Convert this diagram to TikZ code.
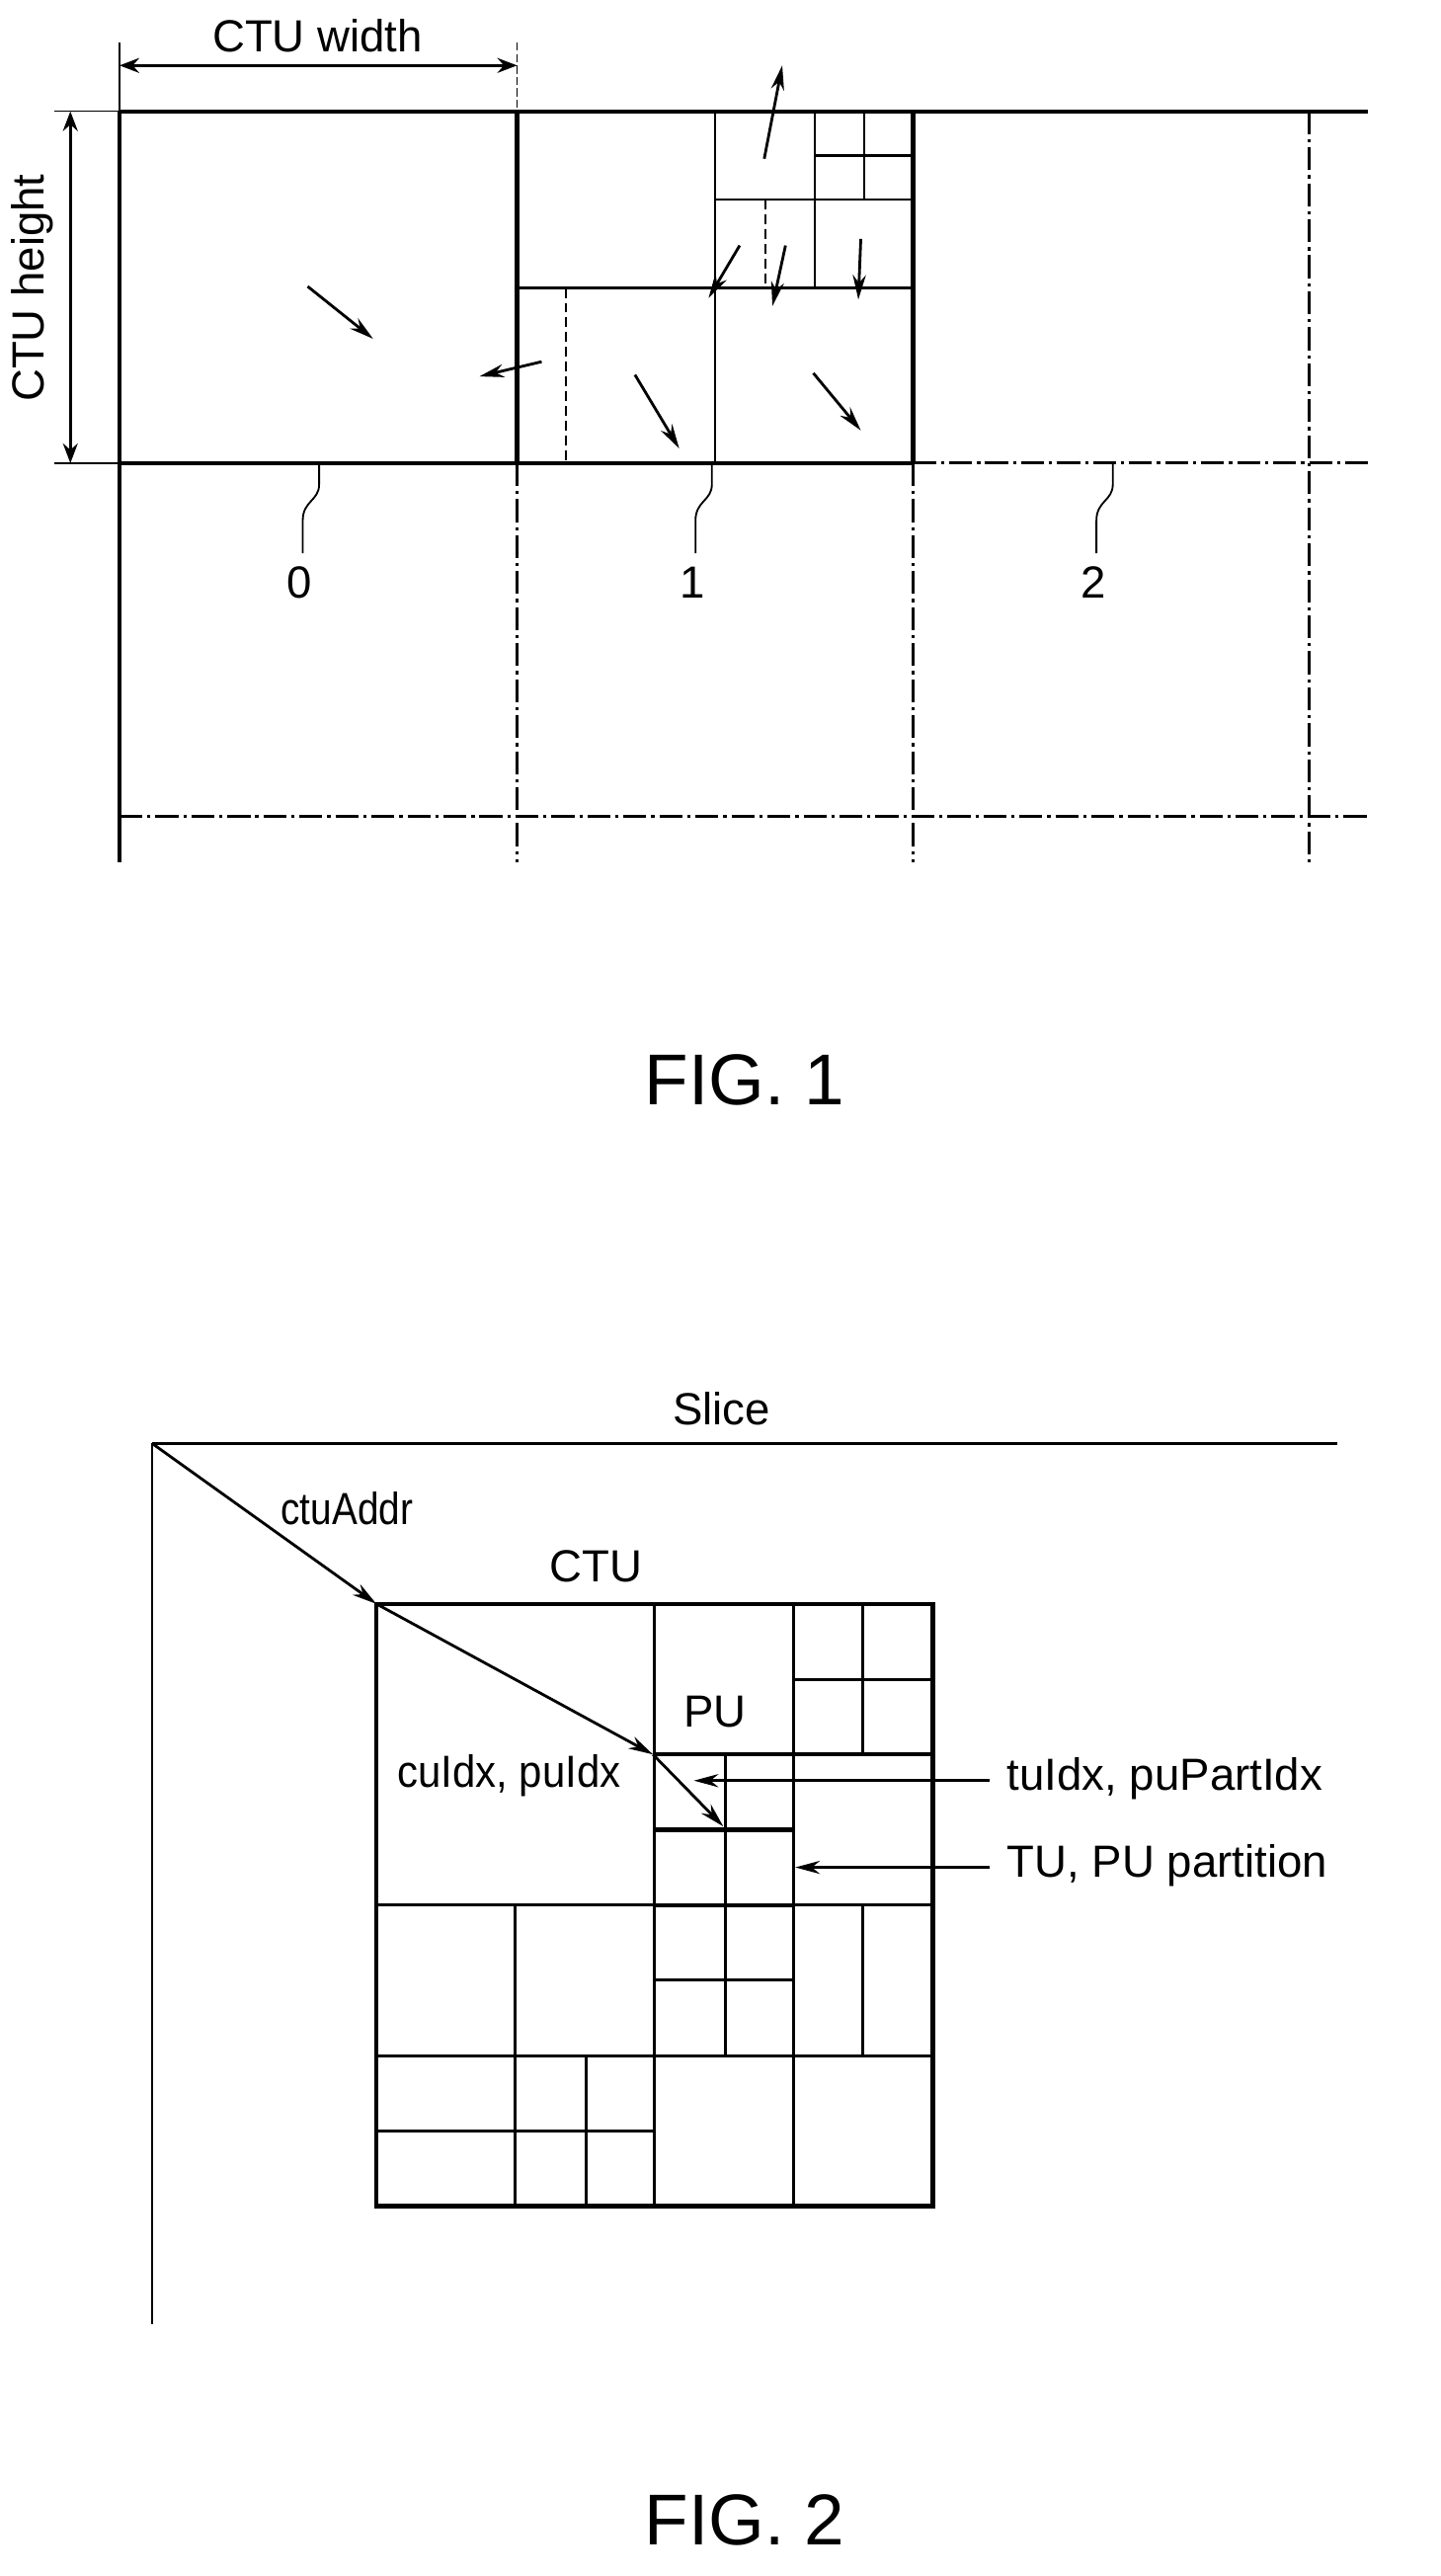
\documentclass[tikz,border=0pt]{standalone}
\usepackage{fontspec}
\setmainfont{Liberation Sans}
\usetikzlibrary{arrows.meta}
\begin{document}
\begin{tikzpicture}[x=1pt,y=-1pt,
  thick/.style={line width=2.6pt},
  thin/.style={line width=1.5pt},
  dd/.style={line width=1.8pt,dash pattern=on 14pt off 3pt on 2pt off 3pt},
  dsh/.style={line width=1.2pt,dash pattern=on 6pt off 3pt},
  arr/.style={line width=1.7pt,-{Stealth[length=15pt,width=8pt]}},
  dim/.style={line width=2pt,{Stealth[length=12pt,width=9pt]}-{Stealth[length=12pt,width=9pt]}},
  lbl/.style={font=\fontsize{27.5}{30}\selectfont},
  fig/.style={font=\fontsize{44}{48}\selectfont}]
\useasboundingbox (0,0) rectangle (880,1574);
% ---------- FIG 1 ----------
\draw[thick] (73,68) -- (836,68);
\draw[thick] (73,68) -- (73,527);
\draw[thick] (73,283) -- (558,283);
\draw[dd] (558,283) -- (836,283);
\draw[thick] (316,68) -- (316,283);
\draw[thick] (558,68) -- (558,283);
\draw[dd] (316,283) -- (316,527);
\draw[dd] (558,283) -- (558,527);
\draw[dd] (800,68) -- (800,527);
\draw[dd] (73,499) -- (836,499);
% inner CTU 1
\draw[thin] (437,68) -- (437,283);
\draw[thin] (316,176) -- (558,176);
\draw[dsh] (346,176) -- (346,283);
\draw[thin] (437,122) -- (558,122);
\draw[thin] (498,68) -- (498,176);
\draw[thin] (528,68) -- (528,122);
\draw[thin] (498,95) -- (558,95);
\draw[dsh] (468,122) -- (468,176);
% motion arrows
\draw[arr] (467,97) -- (478,40);
\draw[arr] (188,175) -- (228,207);
\draw[arr] (331,221) -- (293,230);
\draw[arr] (388,229) -- (415,274);
\draw[arr] (497,228) -- (526,263);
\draw[arr] (452,150) -- (433,182);
\draw[arr] (480,150) -- (472,187);
\draw[arr] (526,146) -- (524.5,183);
% dimensions
\draw[line width=0.8pt] (73,26) -- (73,68);
\draw[line width=0.8pt,dash pattern=on 5pt off 2pt] (316,26) -- (316,68);
\draw[line width=0.8pt] (33,68) -- (73,68);
\draw[line width=0.8pt] (33,283) -- (73,283);
\draw[dim] (73,40) -- (316,40);
\draw[dim] (43,68) -- (43,283);
\node[lbl] (ctuw) at (194,22) {CTU width};
\node[lbl,rotate=90] (ctuh) at (20,176) {CTU height};
% leaders
\foreach \x/\t in {195/0,435/1,680/2}{
  \draw[line width=1.1pt] (\x,283) -- (\x,296) .. controls (\x,306) and (\x-10,306) .. (\x-10,318) -- (\x-10,338);
  \node[lbl] at (\x-12,356) {\t};
}
\node[fig] (f1) at (455,660) {FIG. 1};
% ---------- FIG 2 ----------
\draw[line width=1.4pt] (93,882) -- (817,882);
\draw[line width=1.4pt] (93,882) -- (93,1420);
\node[lbl] (slice) at (441,861) {Slice};
\coordinate (o) at (93,882);
\coordinate (c) at (230,980);
\coordinate (cu) at (399,1072);
\coordinate (tu) at (442,1116);
\draw[line width=2.6pt] (230,980) rectangle (570,1348);
\draw[line width=1.8pt] (400,980) -- (400,1348);
\draw[line width=1.8pt] (485,980) -- (485,1348);
\draw[line width=1.8pt] (230,1164) -- (570,1164);
\draw[line width=1.8pt] (230,1256) -- (570,1256);
\draw[line width=1.8pt] (315,1164) -- (315,1348);
\draw[line width=2.5pt] (400,1072) -- (570,1072);
\draw[line width=1.8pt] (443,1072) -- (443,1256);
\draw[line width=2.5pt] (400,1118) -- (485,1118);
\draw[line width=2.5pt] (400,1164) -- (485,1164);
\draw[line width=1.8pt] (527,980) -- (527,1072);
\draw[line width=1.8pt] (485,1026) -- (570,1026);
\draw[line width=1.8pt] (527,1164) -- (527,1256);
\draw[line width=1.8pt] (400,1210) -- (485,1210);
\draw[line width=1.8pt] (230,1302) -- (400,1302);
\draw[line width=1.8pt] (358,1256) -- (358,1348);
\draw[arr] (o) -- (c);
\draw[arr] (c) -- (cu);
\draw[arr] (cu) -- (tu);
\node[lbl,xscale=0.85] (addr) at (212,922) {ctuAddr};
\node[lbl] (ctu) at (364,957) {CTU};
\node[lbl] (pu) at (437,1046) {PU};
\node[lbl,xscale=0.92] (cuidx) at (311,1085) {cuIdx, puIdx};
\node[lbl,anchor=west] (tuidx) at (612,1087) {tuIdx, puPartIdx};
\node[lbl,anchor=west] (tup) at (612,1140) {TU, PU partition};
\draw[arr] (605,1088) -- (424,1088);
\draw[arr] (605,1141) -- (486,1141);
\node[fig] (f2) at (455,1540) {FIG. 2};
\end{tikzpicture}
\end{document}
